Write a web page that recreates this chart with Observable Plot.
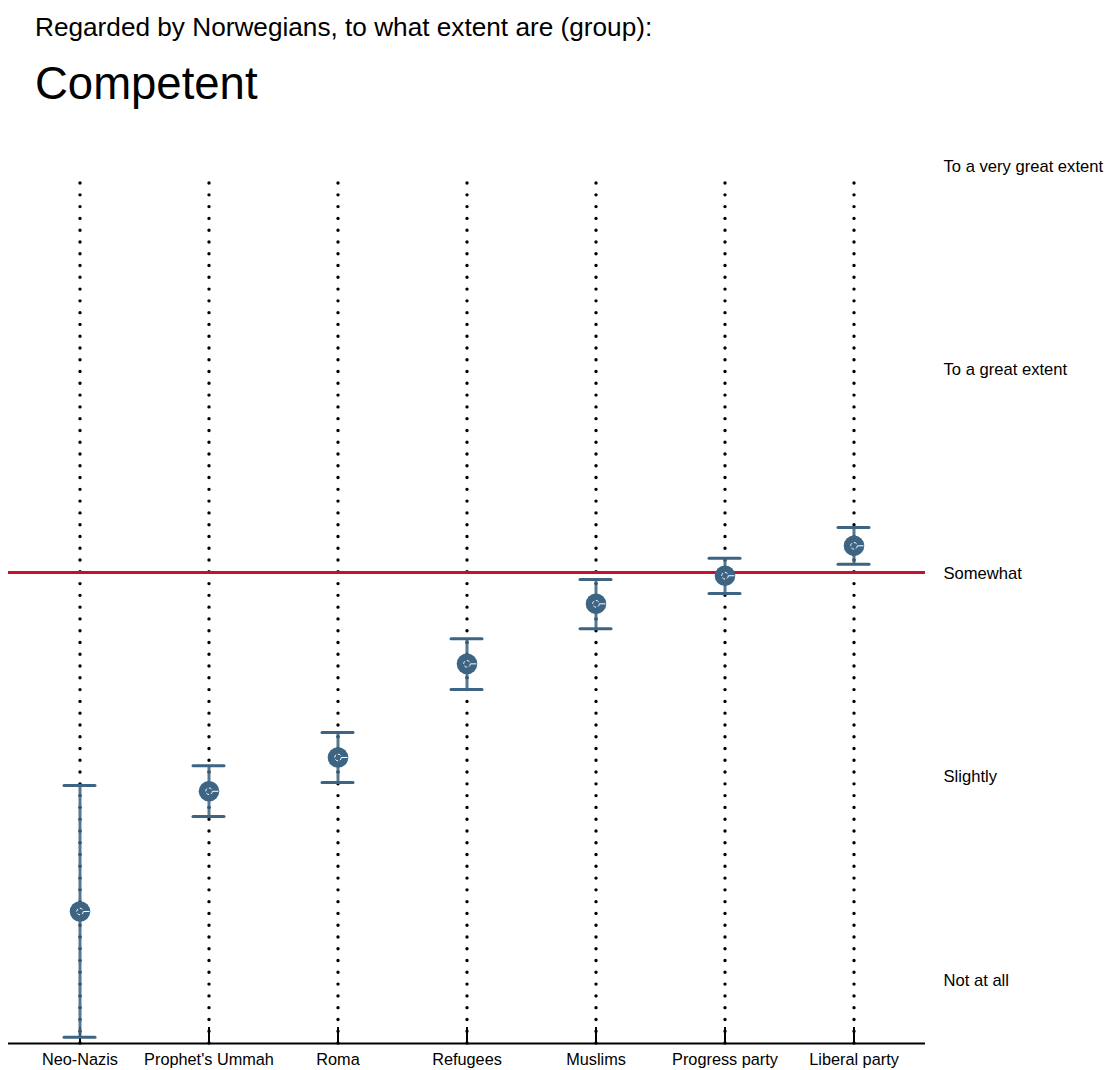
<!DOCTYPE html>
<html>
<head>
<meta charset="utf-8">
<script src="https://cdn.jsdelivr.net/npm/d3@7"></script>
<script src="https://cdn.jsdelivr.net/npm/@observablehq/plot@0.6"></script>
<style>
  html, body { margin: 0; padding: 0; background: #fff; }
  body { width: 1109px; font-family: "Liberation Sans", Arial, Helvetica, sans-serif; color: #000; }
  #head { position: relative; height: 130px; }
  #sub { position: absolute; left: 35px; top: 11px; font-size: 26.2px; line-height: 32px; }
  #title { position: absolute; left: 35px; top: 56px; font-size: 45.5px; line-height: 56px; }
  #chart svg { display: block; }
</style>
</head>
<body>
<div id="head">
  <div id="sub">Regarded by Norwegians, to what extent are (group):</div>
  <div id="title">Competent</div>
</div>
<div id="chart"></div>
<script>
// Groups, ordered left to right
const groups = ["Neo-Nazis", "Prophet's Ummah", "Roma", "Refugees", "Muslims", "Progress party", "Liberal party"];
// Mean rating (1 = Not at all … 5 = To a very great extent) and interval bounds
const means = [1.334, 1.925, 2.091, 2.551, 2.846, 2.984, 3.131];
const lows  = [0.716, 1.801, 1.968, 2.425, 2.723, 2.897, 3.041];
const highs = [1.953, 2.050, 2.214, 2.674, 2.966, 3.070, 3.221];
// Response scale labels
const scaleValues = [1, 2, 3, 4, 5];
const scaleLabels = ["Not at all", "Slightly", "Somewhat", "To a great extent", "To a very great extent"];
// Reference level drawn as a red line
const reference = 3;

const rows = groups.map((g, i) => ({group: g, mean: means[i], low: lows[i], high: highs[i]}));

const yMin = 0.6855, yMax = 5;
const gridTop = 4.945;
const blue = "#3d6483";
const half = 64.5;      // half of a band's width
const capHalf = 15.5;   // half of an interval cap

const chart = Plot.plot({
  width: 1109,
  height: 940,
  marginLeft: 8,
  marginRight: 184,
  marginTop: 35,
  marginBottom: 27,
  style: {fontFamily: "'Liberation Sans', Arial, Helvetica, sans-serif", fontSize: "16px", color: "#000", background: "#fff"},
  x: {type: "band", domain: groups, paddingInner: 0, paddingOuter: 0.054, label: null},
  y: {domain: [yMin, yMax], label: null},
  marks: [
    // dotted guide per group
    Plot.ruleX(groups, {x: d => d, y1: yMin, y2: gridTop, stroke: "#000", strokeWidth: 3.4,
      strokeDasharray: "0 11.78", strokeLinecap: "round"}),
    // upward ticks on the baseline
    Plot.ruleX(groups, {x: d => d, y1: yMin, y2: yMin, insetTop: -16, stroke: "#000", strokeWidth: 2}),
    // intervals
    Plot.ruleX(rows, {x: "group", y1: "low", y2: "high", stroke: blue, strokeWidth: 3, strokeOpacity: 0.88}),
    Plot.tickY(rows, {x: "group", y: "high", stroke: blue, strokeWidth: 3,
      insetLeft: half - capHalf, insetRight: half - capHalf, strokeLinecap: "round"}),
    Plot.tickY(rows, {x: "group", y: "low", stroke: blue, strokeWidth: 3,
      insetLeft: half - capHalf, insetRight: half - capHalf, strokeLinecap: "round"}),
    // reference line
    Plot.ruleY([reference], {stroke: "#c8102e", strokeWidth: 3}),
    // means
    Plot.dot(rows, {x: "group", y: "mean", r: 10.3, fill: blue, stroke: "none"}),
    Plot.dot(rows, {x: "group", y: "mean", r: 3.3, fill: "none", stroke: "#fff", strokeWidth: 1, strokeDasharray: "3 2"}),
    Plot.tickY(rows, {x: "group", y: "mean", stroke: "#fff", strokeWidth: 1, insetLeft: half + 4, insetRight: half - 10}),
    // baseline
    Plot.ruleY([yMin], {stroke: "#000", strokeWidth: 2}),
    Plot.axisX({tickSize: 0, tickPadding: 10, fontSize: 16.3}),
    Plot.axisY({anchor: "right", ticks: scaleValues, tickSize: 0, tickPadding: 18, fontSize: 16.6,
      tickFormat: v => scaleLabels[scaleValues.indexOf(v)], dy: 1})
  ]
});
document.getElementById("chart").appendChild(chart);
</script>
</body>
</html>
